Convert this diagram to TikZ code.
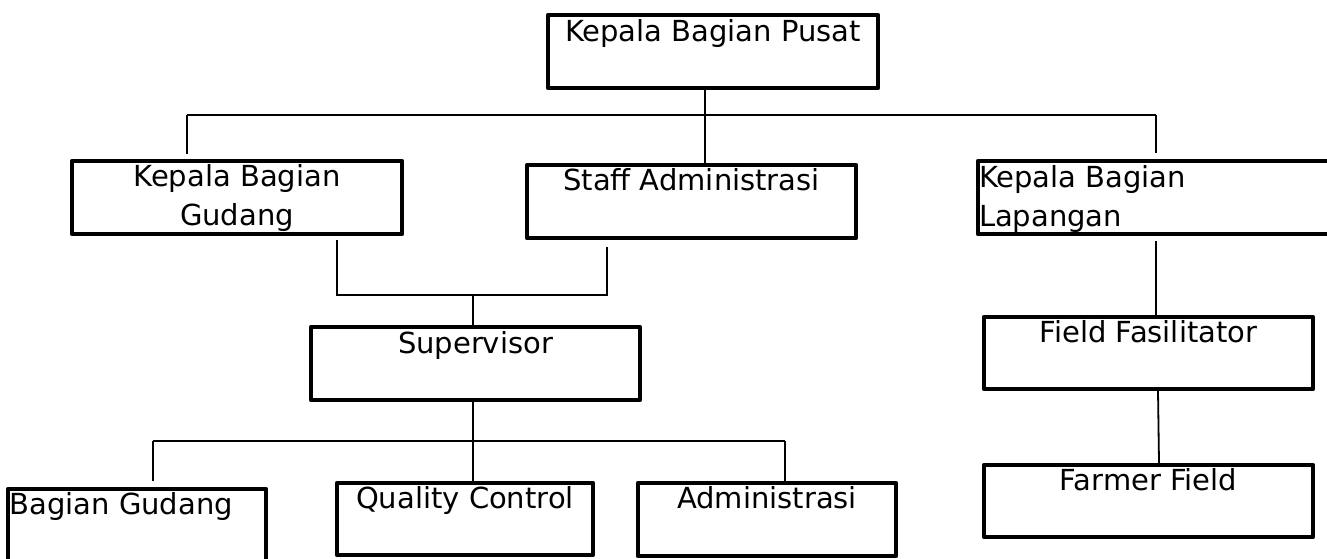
\documentclass[tikz,border=0pt]{standalone}
\usepackage{fontspec}
\setmainfont{DejaVu Sans}
\begin{document}
\begin{tikzpicture}[x=1pt,y=-1pt,
  box/.style={draw=black, line width=4.4pt, rectangle, inner sep=0pt, line join=round},
  lbl/.style={inner sep=0pt, anchor=base, font=\fontsize{29}{39}\selectfont},
  conn/.style={draw=black, line width=1.8pt}]
\useasboundingbox (0,0) rectangle (1327,558);
% boxes
\node[box, minimum width=330, minimum height=73] (pusat) at (713,51.5) {};
\node[box, minimum width=330, minimum height=73] (gudangK) at (237,197.5) {};
\node[box, minimum width=329, minimum height=73] (staff) at (691.5,201.5) {};
\node[box, minimum width=367, minimum height=73] (lapangan) at (1161.5,197.5) {};
\node[box, minimum width=329, minimum height=73] (super) at (475.5,363.5) {};
\node[box, minimum width=329, minimum height=72] (ff) at (1148.5,353) {};
\node[box, minimum width=329, minimum height=72] (farmer) at (1148.5,501) {};
\node[box, minimum width=258, minimum height=73] (bgud) at (137,525.5) {};
\node[box, minimum width=256, minimum height=72] (qc) at (465,519) {};
\node[box, minimum width=258, minimum height=73] (adm) at (767,519.5) {};
% labels
\node[lbl] (tpusat) at ([yshift=-28.5pt]pusat.north) {Kepala Bagian Pusat};
\node[lbl, align=center] (tgudangK) at ([yshift=-66.5pt]gudangK.north) {Kepala Bagian\\Gudang};
\node[lbl] (tstaff) at ([yshift=-28pt]staff.north) {Staff Administrasi};
\node[lbl, align=left, anchor=base west] (tlapangan) at ([xshift=3pt,yshift=-67.5pt]lapangan.north west) {Kepala Bagian\\Lapangan};
\node[lbl] (tsuper) at ([yshift=-28.5pt]super.north) {Supervisor};
\node[lbl] (tff) at ([yshift=-28pt]ff.north) {Field Fasilitator};
\node[lbl] (tfarmer) at ([yshift=-28pt]farmer.north) {Farmer Field};
\node[lbl, anchor=base west] (tbgud) at ([xshift=3.5pt,yshift=-27.5pt]bgud.north west) {Bagian Gudang};
\node[lbl] (tqc) at ([yshift=-28pt]qc.north) {Quality Control};
\node[lbl] (tadm) at ([yshift=-28pt]adm.north) {Administrasi};
% junctions
\coordinate (j1) at (705,115);
\coordinate (jl) at (187,115);
\coordinate (jr) at (1156,115);
\coordinate (j2) at (473,295);
\coordinate (j2l) at (337,295);
\coordinate (j2r) at (607,295);
\coordinate (j3) at (473,441);
\coordinate (j3l) at (153,441);
\coordinate (j3r) at (785,441);
\coordinate (jf1) at (1158,389);
\coordinate (jf2) at (1159,465);
% connectors
\draw[conn] (j1 |- pusat.south) -- (j1 |- staff.north);
\draw[conn] (jl) -- (jr);
\draw[conn] (jl) -- ([yshift=5pt]jl |- gudangK.north);
\draw[conn] (jr) -- ([yshift=6pt]jr |- lapangan.north);
\draw[conn] ([yshift=-4pt]j2l |- gudangK.south) -- (j2l) -- (j2r) -- ([yshift=-7pt]j2r |- staff.south);
\draw[conn] (j2) -- (j2 |- super.north);
\draw[conn] (j2 |- super.south) -- (j2 |- qc.north);
\draw[conn] (j3l) -- (j3r);
\draw[conn] (j3l) -- ([yshift=6pt]j3l |- bgud.north);
\draw[conn] (j3r) -- (j3r |- adm.north);
\draw[conn] ([yshift=-5pt]jr |- lapangan.south) -- (jr |- ff.north);
\draw[conn] (jf1 |- ff.south) -- (jf2 |- farmer.north);
\end{tikzpicture}
\end{document}
